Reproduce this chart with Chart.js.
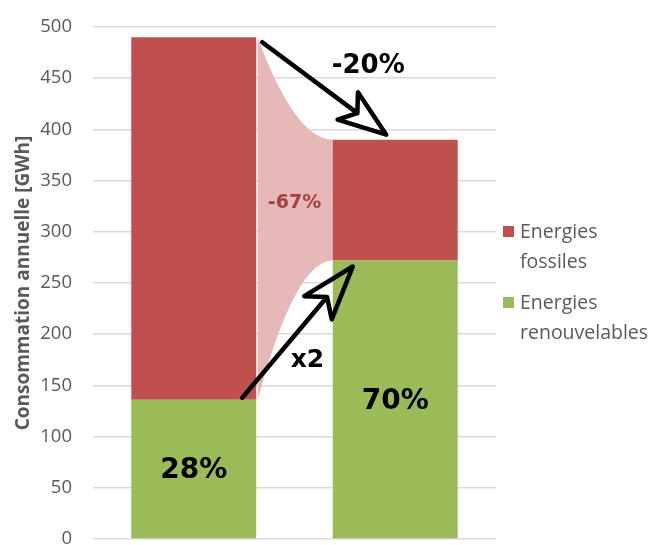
<!DOCTYPE html>
<html lang="fr">
<head>
<meta charset="utf-8">
<title>Consommation annuelle</title>
<script src="https://cdn.jsdelivr.net/npm/chart.js@4.4.1/dist/chart.umd.min.js"></script>
<style>
  html, body { margin: 0; padding: 0; background: #fff; }
  canvas { display: block; }
</style>
</head>
<body>
<canvas id="conso" width="654" height="545"></canvas>
<script>
// Données (GWh / an)
const categories = ['Situation actuelle', 'Scénario'];
const renouvelables = [136, 272];
const fossiles = [354, 118];
const seriesLabels = ['Energies renouvelables', 'Energies fossiles'];
const yMax = 500;
const yStep = 50;

// couleurs
const VERT = '#9BBB59';
const ROUGE = '#C0504D';
const ROSE = '#E6B9B8';
const GRIS = '#595959';

const total = i => renouvelables[i] + fossiles[i];

// récupère la géométrie finale d'une barre
function barBox(chart, dsIndex, i) {
    const el = chart.getDatasetMeta(dsIndex).data[i];
    const p = el.getProps(['x', 'y', 'base', 'width'], true);
    return { x: p.x, top: p.y, base: p.base, left: p.x - p.width / 2, right: p.x + p.width / 2 };
}

// flèche "dessinée à la main" avec pointe évidée
function drawArrow(ctx, x0, y0, x1, y1, head) {
    const len = Math.hypot(x1 - x0, y1 - y0);
    const ux = (x1 - x0) / len, uy = (y1 - y0) / len;
    const nx = -uy, ny = ux;
    const pt = (b, s) => [x1 - ux * b + nx * s, y1 - uy * b + ny * s];
    ctx.save();
    ctx.strokeStyle = '#000';
    ctx.lineWidth = 4.5;
    ctx.lineJoin = 'round';
    ctx.lineCap = 'round';
    ctx.beginPath();
    ctx.moveTo(x0, y0);
    ctx.lineTo(...pt(head.notch, 0));
    ctx.lineTo(...pt(head.back, head.side));
    ctx.lineTo(x1, y1);
    ctx.lineTo(...pt(head.back, -head.side));
    ctx.lineTo(...pt(head.notch, 0));
    ctx.stroke();
    ctx.restore();
}

// bande rose entre les deux parts fossiles
const bandePlugin = {
    id: 'bande',
    beforeDatasetsDraw(chart) {
        const ctx = chart.ctx;
        const a = barBox(chart, 1, 0), b = barBox(chart, 1, 1);
        const x1 = a.right + 1.5, x2 = b.left;
        const cx = x1 + (x2 - x1) * 0.5;
        ctx.save();
        ctx.fillStyle = ROSE;
        ctx.beginPath();
        ctx.moveTo(x1, a.top);
        ctx.quadraticCurveTo(cx, b.top, x2, b.top);
        ctx.lineTo(x2, b.base);
        ctx.quadraticCurveTo(cx, b.base, x1, a.base);
        ctx.closePath();
        ctx.fill();
        ctx.restore();
    }
};

// flèches + étiquettes
const annotationsPlugin = {
    id: 'annotations',
    afterDatasetsDraw(chart) {
        const ctx = chart.ctx;
        const f1 = barBox(chart, 1, 0), f2 = barBox(chart, 1, 1);
        const g1 = barBox(chart, 0, 0), g2 = barBox(chart, 0, 1);

        drawArrow(ctx, f1.right + 6, f1.top + 5, f2.x - 9, f2.top - 5, { back: 48, notch: 36, side: 17 });
        drawArrow(ctx, g1.right - 14, g1.top - 2, g2.left + 20, g2.top + 6, { back: 54, notch: 40, side: 18 });

        const gap = (f1.right + f2.left) / 2;
        ctx.save();
        ctx.textAlign = 'center';
        ctx.textBaseline = 'middle';

        // parts renouvelables
        ctx.fillStyle = '#000';
        ctx.font = 'bold 28px "DejaVu Sans"';
        [g1, g2].forEach((g, i) => {
            const share = Math.round(renouvelables[i] / total(i) * 100);
            ctx.fillText(share + '%', g.x, (g.top + g.base) / 2 + 2);
        });

        // évolution totale
        const evolTotal = Math.round((total(1) / total(0) - 1) * 100);
        ctx.font = 'bold 26px "DejaVu Sans"';
        ctx.fillText(evolTotal + '%', f2.x - 27, f1.top + 29);

        // facteur renouvelables
        ctx.font = 'bold 25px "DejaVu Sans"';
        ctx.fillText('x' + Math.round(renouvelables[1] / renouvelables[0]), gap + 13, (g1.top + g2.top) / 2 + 30);

        // évolution fossiles
        const evolFossiles = Math.round((fossiles[1] / fossiles[0] - 1) * 100);
        ctx.fillStyle = '#A5403D';
        ctx.font = 'bold 19px "DejaVu Sans"';
        ctx.fillText(evolFossiles + '%', gap, (f2.top + f2.base) / 2 + 3);
        ctx.restore();
    }
};

// légende à droite, libellés sur deux lignes
const legendePlugin = {
    id: 'legende',
    afterDraw(chart) {
        const ctx = chart.ctx;
        const area = chart.chartArea;
        const items = [1, 0].map(i => chart.data.datasets[i]);
        const x = area.right + 7;
        const lineH = 30, itemH = 71;
        let y = (area.top + area.bottom) / 2 - 51;
        ctx.save();
        ctx.font = '19.5px "Open Sans"';
        ctx.textBaseline = 'middle';
        ctx.textAlign = 'left';
        items.forEach(ds => {
            ctx.fillStyle = ds.backgroundColor;
            ctx.fillRect(x, y - 6, 11, 11);
            ctx.fillStyle = GRIS;
            const words = ds.label.split(' ');
            ctx.fillText(words[0], x + 17, y);
            ctx.fillText(words.slice(1).join(' '), x + 17, y + lineH);
            y += itemH;
        });
        ctx.restore();
    }
};

const chart = new Chart(document.getElementById('conso'), {
    type: 'bar',
    data: {
        labels: categories,
        datasets: [
            { label: seriesLabels[0], data: renouvelables, backgroundColor: VERT },
            { label: seriesLabels[1], data: fossiles, backgroundColor: ROUGE }
        ]
    },
    options: {
        responsive: false,
        animation: false,
        layout: { padding: { top: 27, right: 158, bottom: 6, left: 0 } },
        datasets: { bar: { barPercentage: 0.62, categoryPercentage: 1 } },
        plugins: {
            legend: { display: false },
            tooltip: { enabled: false }
        },
        scales: {
            x: { stacked: true, display: false },
            y: {
                stacked: true,
                min: 0,
                max: yMax,
                afterFit(scale) {
                    scale.width = 93;
                    // les libellés extrêmes ne doivent pas réduire la zone de tracé
                    scale.paddingTop = 0;
                    scale.paddingBottom = 0;
                },
                border: { display: false },
                grid: { color: '#D9D9D9', lineWidth: 1.5, drawTicks: false },
                ticks: {
                    stepSize: yStep,
                    padding: 21,
                    color: GRIS,
                    font: { family: 'Open Sans', size: 18.5 }
                },
                title: {
                    display: true,
                    text: 'Consommation annuelle [GWh]',
                    color: GRIS,
                    padding: { top: 12, bottom: 0 },
                    font: { family: 'Open Sans', size: 19, weight: 'bold' }
                }
            }
        }
    },
    plugins: [bandePlugin, annotationsPlugin, legendePlugin]
});
</script>
</body>
</html>
